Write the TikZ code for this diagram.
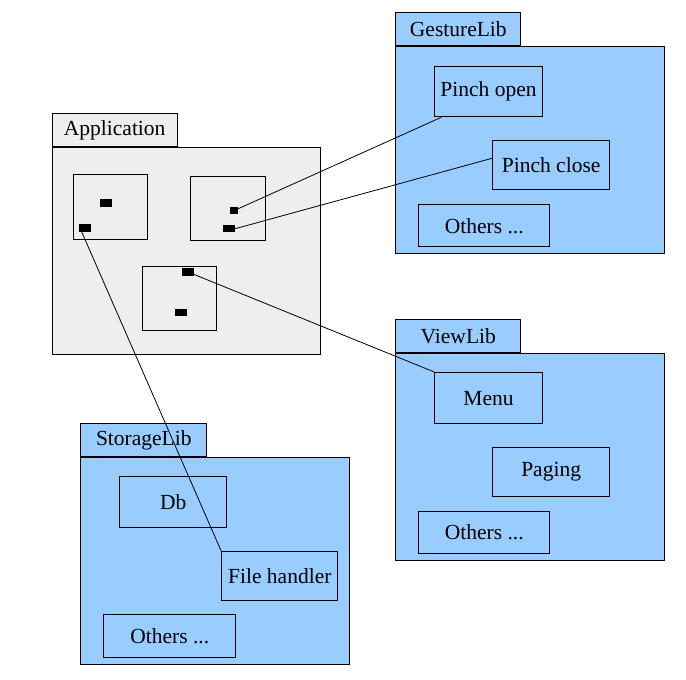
\documentclass[tikz,border=0pt]{standalone}
\usepackage{fontspec}
\setmainfont{Liberation Serif}
\usetikzlibrary{positioning}
\definecolor{libblue}{HTML}{99CCFF}
\definecolor{appgray}{HTML}{EEEEEE}

\begin{document}
\begin{tikzpicture}[x=1pt,y=-1pt,
pack/.style={draw,rectangle,anchor=north west,inner sep=0pt,line width=1pt},
tab/.style={draw,rectangle,minimum width=125pt,minimum height=32.7pt,inner sep=0pt,line width=1pt},
part/.style={draw,rectangle,anchor=north west,inner sep=0pt,line width=1pt},
port/.style={fill=black,rectangle,inner sep=0pt,minimum width=12pt,minimum height=7.4pt},
link/.style={line width=0.8pt},
every node/.style={font=\rmfamily\fontsize{21.5}{24}\selectfont}]
\useasboundingbox (0,0) rectangle (686,680);

\node (app) [pack,fill=appgray,minimum width=268.6pt,minimum height=207pt] at (51.7,147) {};
\node (apptab) [tab,fill=appgray,above right=0pt of app.north west] {Application};
\node (cmpa) [part,minimum width=74pt,minimum height=64.7pt] at (73.3,174.3) {};
\node (cmpb) [part,minimum width=75pt,minimum height=64pt] at (190.3,176.3) {};
\node (cmpc) [part,minimum width=74.3pt,minimum height=64pt] at (142,266) {};
\node (pa1) [port] at (105.8,203) {};
\node (pa2) [port] at (85,228) {};
\node (pb1) [port,minimum width=8pt] at (233.8,210.7) {};
\node (pb2) [port] at (229,228.7) {};
\node (pc1) [port] at (187.5,271.8) {};
\node (pc2) [port] at (181,312.7) {};

\node (gest) [pack,fill=libblue,minimum width=269pt,minimum height=207.3pt] at (395.3,46) {};
\node (gesttab) [tab,fill=libblue,above right=0pt of gest.north west] {GestureLib};
\node (popen) [part,minimum width=107.4pt,minimum height=50pt] at (434.3,66.3) {Pinch open};
\node (pclose) [part,minimum width=117.3pt,minimum height=49pt] at (492,140.3) {Pinch close};
\node (gother) [part,minimum width=131pt,minimum height=42pt] at (418.3,204.3) {Others ...};

\node (view) [pack,fill=libblue,minimum width=269pt,minimum height=207pt] at (395.3,353) {};
\node (viewtab) [tab,fill=libblue,above right=0pt of view.north west] {ViewLib};
\node (menu) [part,minimum width=107.4pt,minimum height=51.3pt] at (434.3,372) {Menu};
\node (paging) [part,minimum width=117.3pt,minimum height=49pt] at (492,447) {Paging};
\node (vother) [part,minimum width=131pt,minimum height=42.3pt] at (418.3,511) {Others ...};

\node (store) [pack,fill=libblue,minimum width=269pt,minimum height=207.3pt] at (80.3,457) {};
\node (storetab) [tab,fill=libblue,minimum width=126pt,above right=0pt of store.north west] {StorageLib};
\node (db) [part,minimum width=107.3pt,minimum height=51.3pt] at (119,476) {Db};
\node (fileh) [part,minimum width=116pt,minimum height=49pt] at (221.3,551.3) {File handler};
\node (sother) [part,minimum width=132pt,minimum height=43.3pt] at (103.3,614) {Others ...};

\draw [link] (pb1) -- ([xshift=7pt]popen.south west);
\draw [link] (pb2.east) -- ([yshift=7pt]pclose.west);
\draw [link] (pc1) -- (menu.north west);
\draw [link] ([xshift=-5pt]pa2.center) -- (fileh.north west);
\end{tikzpicture}
\end{document}
